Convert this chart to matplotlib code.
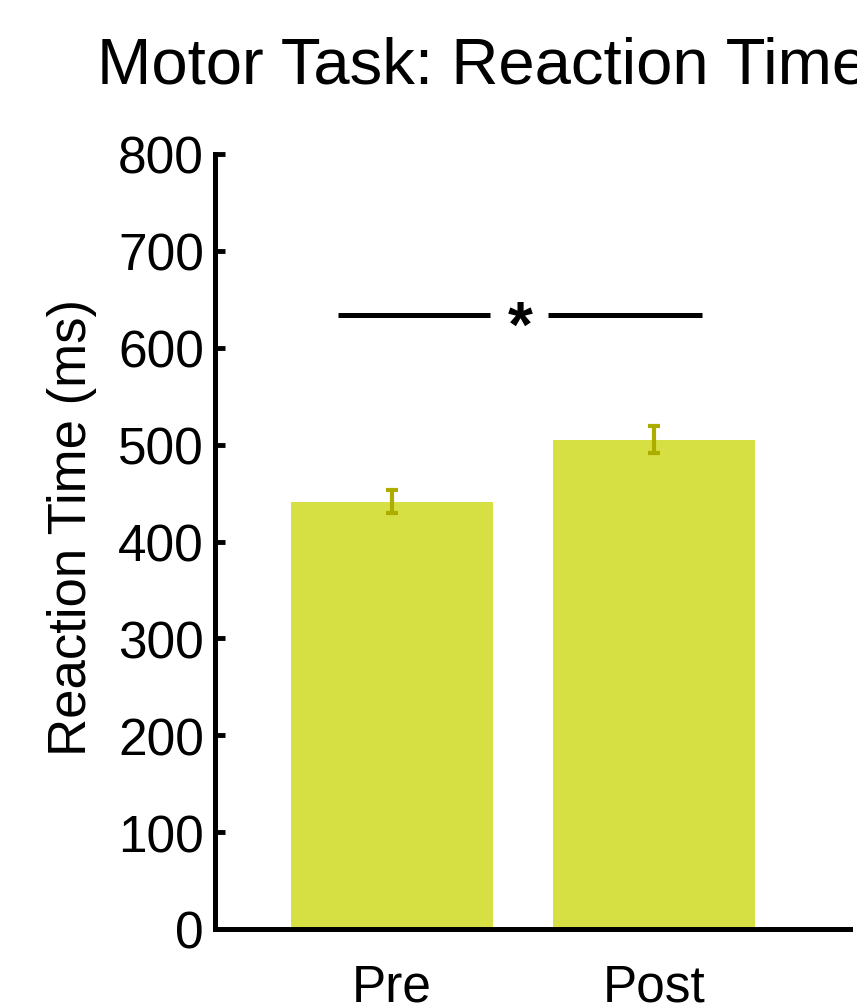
import matplotlib
matplotlib.use("Agg")
import matplotlib.pyplot as plt

categories = ["Pre", "Post"]
means = [441, 505]
errors = [12, 14]
yticks = [0, 100, 200, 300, 400, 500, 600, 700, 800]
sig_y = 634

plt.rcParams['font.family'] = ['Liberation Sans', 'DejaVu Sans']

W, H = 857, 1004
fig = plt.figure(figsize=(W/100, H/100), dpi=100)
ax = fig.add_axes([215/W, 1-930/H, (850-215)/W, (930-155)/H])

x = [0, 1]
ax.bar(x, means, width=0.77, color='#d6e042', zorder=1)
ax.errorbar(x, means, yerr=errors, fmt='none', ecolor='#adad00',
            elinewidth=3, capsize=4, capthick=3, zorder=2)

ax.set_xlim(-0.676, 1.748)
ax.set_ylim(0, 800)
ax.set_yticks(yticks)
ax.set_yticklabels([str(v) for v in yticks], fontsize=37)
ax.set_xticks(x)
ax.set_xticklabels(categories, fontsize=37)
ax.tick_params(axis='y', direction='in', length=7, width=3.5, pad=8)
ax.tick_params(axis='x', length=0, pad=24)
for s in ['top', 'right']:
    ax.spines[s].set_visible(False)
for s in ['left', 'bottom']:
    ax.spines[s].set_linewidth(3.6)

fig.text(72/W, 1-528/H, "Reaction Time (ms)", fontsize=38, rotation=90,
         ha='center', va='center')

# significance line
ax.plot([-0.206, 0.375], [sig_y, sig_y], color='black', lw=3.6, solid_capstyle='butt')
ax.plot([0.595, 1.183], [sig_y, sig_y], color='black', lw=3.6, solid_capstyle='butt')
ax.text(0.489, sig_y - 32, "*", ha='center', va='baseline', fontsize=46, fontweight='bold')

fig.text(97/W, 1-84/H, "Motor Task: Reaction Time", fontsize=47, ha='left', va='baseline')

fig.savefig("out.png", dpi=100)
